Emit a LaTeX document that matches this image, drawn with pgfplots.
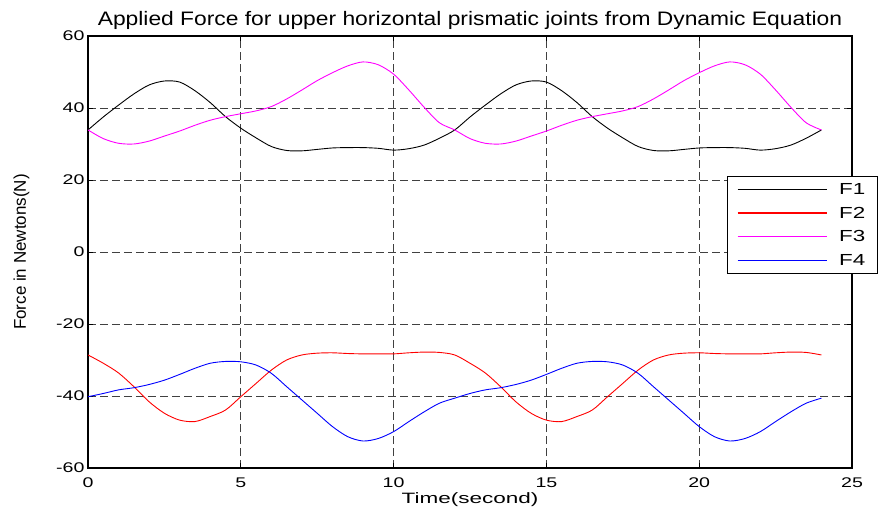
\documentclass[border=0pt]{standalone}
\usepackage{fontspec}
\setmainfont{Liberation Sans}
\newfontfamily\tickfont[FakeStretch=1.4]{Liberation Sans}
\newfontfamily\titlefont[FakeStretch=1.17]{Liberation Sans}
\newfontfamily\labfont[FakeStretch=1.5]{Liberation Sans}
\usepackage{pgfplots}
\pgfplotsset{compat=1.18}
\definecolor{mag}{RGB}{255,0,255}
\begin{document}
\begin{tikzpicture}
\path[use as bounding box] (-88pt,-46pt) rectangle (792pt,468pt);
\begin{axis}[
  at={(0pt,0pt)}, anchor=south west,
  scale only axis, width=764pt, height=432pt,
  xmin=0, xmax=25, ymin=-60, ymax=60,
  xtick={0,5,...,25}, ytick={-60,-40,...,60},
  tick align=inside, major tick length=5pt,
  axis line style={line width=1.1pt},
  tick style={line width=0.8pt, black},
  grid=major,
  major grid style={dash pattern=on 8pt off 4pt, black!75, line width=0.8pt},
  /pgf/number format/assume math mode=true,
  tick label style={font=\tickfont\fontsize{14}{16}\selectfont},
  xticklabel style={yshift=-6pt},
  title={\titlefont\fontsize{19.5}{22}\selectfont Applied Force for upper horizontal prismatic joints from Dynamic Equation},
  title style={yshift=-3pt},
  xlabel={\labfont\fontsize{15}{17}\selectfont Time(second)},
  xlabel style={yshift=2pt},
  ylabel={\fontsize{17}{19}\selectfont Force in Newtons(N)},
  ylabel style={yshift=20pt},
  legend style={at={(0.836,0.676)}, anchor=north west, line width=0.9pt,
    font=\tickfont\fontsize{16}{18}\selectfont, row sep=7pt, inner xsep=10pt, inner ysep=5pt},
  legend cell align=left,
  legend image code/.code={\draw[#1, line width=1.1pt] (4pt,0.3pt) -- (93pt,0.3pt); \path (103pt,0pt);},
  every axis plot/.append style={line width=0.9pt, smooth},
]
\addplot[black] coordinates {
(0,33.9)(0.5,37.5)(1,40.8)(1.5,43.9)(2,46.4)(2.5,47.5)(3,47.2)(3.5,44.8)(4,41.5)(4.5,37.6)(5,34.4)(5.5,31.7)(6,29.3)(6.5,28.2)(7,28.1)(7.5,28.5)(8,28.9)(8.5,29.0)(9,29.0)(9.5,28.8)(10,28.3)(10.5,28.7)(11,29.7)(11.5,31.6)
(12,33.9)(12.5,37.5)(13,40.8)(13.5,43.9)(14,46.4)(14.5,47.5)(15,47.2)(15.5,44.8)(16,41.5)(16.5,37.6)(17,34.4)(17.5,31.7)(18,29.3)(18.5,28.2)(19,28.1)(19.5,28.5)(20,28.9)(20.5,29.0)(21,29.0)(21.5,28.8)(22,28.3)(22.5,28.7)(23,29.7)(23.5,31.6)(24,33.9)};
\addlegendentry{F1}
\addplot[red] coordinates {
(0,-28.6)(0.5,-30.9)(1,-33.6)(1.5,-37.4)(2,-41.6)(2.5,-44.8)(3,-46.7)(3.5,-47.1)(4,-45.7)(4.5,-43.9)(5,-40.2)(5.5,-36.5)(6,-32.8)(6.5,-30.0)(7,-28.6)(7.5,-28.1)(8,-28.0)(8.5,-28.2)(9,-28.3)(9.5,-28.3)(10,-28.3)(10.5,-28.0)(11,-27.8)(11.5,-27.9)
(12,-28.6)(12.5,-30.9)(13,-33.6)(13.5,-37.4)(14,-41.6)(14.5,-44.8)(15,-46.7)(15.5,-47.1)(16,-45.7)(16.5,-43.9)(17,-40.2)(17.5,-36.5)(18,-32.8)(18.5,-30.0)(19,-28.6)(19.5,-28.1)(20,-28.0)(20.5,-28.2)(21,-28.3)(21.5,-28.3)(22,-28.3)(22.5,-28.0)(23,-27.8)(23.5,-27.9)(24,-28.6)};
\addlegendentry{F2}
\addplot[mag] coordinates {
(0,33.9)(0.5,31.5)(1,30.2)(1.5,30.0)(2,30.8)(2.5,32.2)(3,33.6)(3.5,35.2)(4,36.6)(4.5,37.6)(5,38.4)(5.5,39.2)(6,40.4)(6.5,42.5)(7,45.0)(7.5,47.6)(8,49.8)(8.5,51.7)(9,52.8)(9.5,52.0)(10,49.4)(10.5,45.0)(11,40.2)(11.5,35.9)
(12,33.9)(12.5,31.5)(13,30.2)(13.5,30.0)(14,30.8)(14.5,32.2)(15,33.6)(15.5,35.2)(16,36.6)(16.5,37.6)(17,38.4)(17.5,39.2)(18,40.4)(18.5,42.5)(19,45.0)(19.5,47.6)(20,49.8)(20.5,51.7)(21,52.8)(21.5,52.0)(22,49.4)(22.5,45.0)(23,40.2)(23.5,35.9)(24,33.9)};
\addlegendentry{F3}
\addplot[blue] coordinates {
(0,-40.2)(0.5,-39.3)(1,-38.3)(1.5,-37.7)(2,-36.8)(2.5,-35.6)(3,-34.0)(3.5,-32.3)(4,-30.9)(4.5,-30.4)(5,-30.5)(5.5,-31.4)(6,-33.7)(6.5,-37.4)(7,-41.1)(7.5,-44.8)(8,-48.5)(8.5,-51.3)(9,-52.5)(9.5,-51.8)(10,-49.9)(10.5,-47.1)(11,-44.4)(11.5,-42.0)
(12,-40.6)(12.5,-39.3)(13,-38.3)(13.5,-37.7)(14,-36.8)(14.5,-35.6)(15,-34.0)(15.5,-32.3)(16,-30.9)(16.5,-30.4)(17,-30.5)(17.5,-31.4)(18,-33.7)(18.5,-37.4)(19,-41.1)(19.5,-44.8)(20,-48.5)(20.5,-51.3)(21,-52.5)(21.5,-51.8)(22,-49.9)(22.5,-47.1)(23,-44.4)(23.5,-42.0)(24,-40.6)};
\addlegendentry{F4}
\end{axis}
\end{tikzpicture}
\end{document}
